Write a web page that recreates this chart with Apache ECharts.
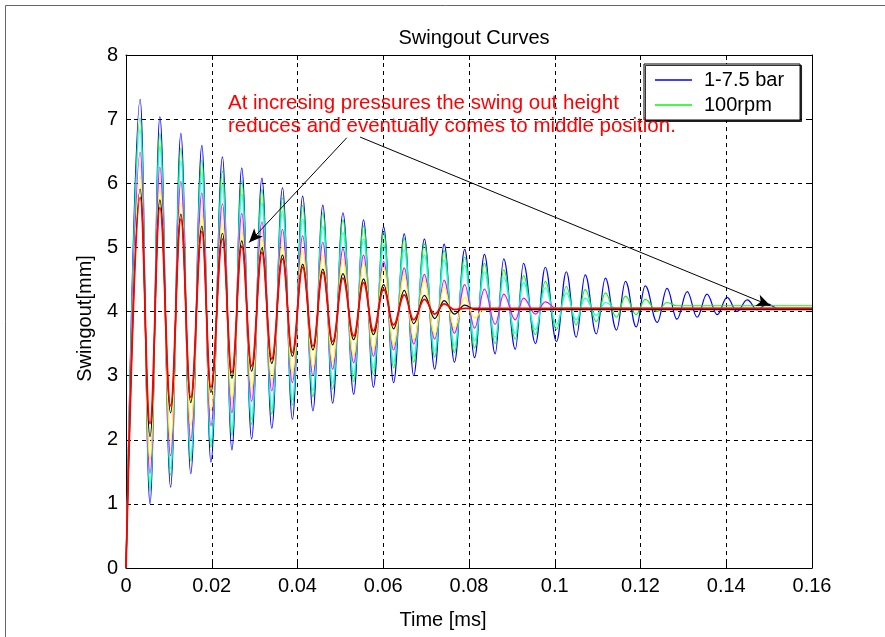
<!DOCTYPE html>
<html>
<head>
<meta charset="utf-8">
<title>Swingout Curves</title>
<script src="https://cdn.jsdelivr.net/npm/echarts@6/dist/echarts.min.js"></script>
<style>
  html, body { margin: 0; padding: 0; background: #fff; }
  #chart { width: 885px; height: 637px; }
</style>
</head>
<body>
<div id="chart"></div>
<script>
// Times [ms] of the oscillation crests and troughs (shared by every curve)
const peakTimes = [0.0033, 0.0079, 0.0128, 0.0177, 0.0225, 0.0270, 0.0317, 0.0365, 0.0412, 0.0459,
  0.0506, 0.0554, 0.0601, 0.0649, 0.0696, 0.0742, 0.0790, 0.0836, 0.0881, 0.0927,
  0.0978, 0.1027, 0.1071, 0.1118, 0.1165, 0.1211, 0.1262, 0.1309, 0.1355, 0.1402,
  0.1449, 0.1496, 0.1543];
const troughTimes = [0.0056, 0.0104, 0.0151, 0.0198, 0.0247, 0.0293, 0.0340, 0.0388, 0.0436, 0.0482,
  0.0531, 0.0577, 0.0624, 0.0671, 0.0720, 0.0766, 0.0813, 0.0861, 0.0908, 0.0955,
  0.1004, 0.1050, 0.1097, 0.1144, 0.1190, 0.1239, 0.1285, 0.1332, 0.1379, 0.1425,
  0.1472, 0.1519];

// Swingout [mm] at each crest / trough, one pair of lists per pressure curve
const bluePeaks = [7.31, 7.04, 6.78, 6.59, 6.41, 6.24, 6.08, 5.93, 5.80, 5.66, 5.54, 5.43, 5.32, 5.21, 5.13, 5.05,
  4.97, 4.89, 4.82, 4.75, 4.69, 4.62, 4.57, 4.52, 4.47, 4.40, 4.36, 4.31, 4.27, 4.22, 4.18, 4.12];
const blueTroughs = [1.00, 1.26, 1.47, 1.65, 1.84, 2.01, 2.18, 2.32, 2.45, 2.57, 2.71, 2.82, 2.89, 3.00, 3.10, 3.21,
  3.28, 3.34, 3.41, 3.50, 3.53, 3.60, 3.65, 3.71, 3.76, 3.83, 3.88, 3.91, 3.95, 4.00, 4.03, 4.05];

const greenPeaks = [7.02, 6.78, 6.55, 6.36, 6.19, 6.04, 5.90, 5.77, 5.65, 5.54, 5.43, 5.33, 5.23, 5.14, 5.05, 4.95,
  4.85, 4.75, 4.65, 4.56, 4.47, 4.39, 4.34, 4.29, 4.24, 4.19, 4.14];
const greenTroughs = [1.20, 1.45, 1.67, 1.88, 2.07, 2.24, 2.40, 2.54, 2.67, 2.79, 2.91, 3.02, 3.12, 3.21, 3.29, 3.36,
  3.43, 3.50, 3.57, 3.64, 3.72, 3.79, 3.84, 3.91, 3.95, 4.00];

const cyanPeaks = [6.84, 6.58, 6.35, 6.16, 5.98, 5.83, 5.69, 5.56, 5.44, 5.33, 5.23, 5.13, 5.04, 4.96, 4.88, 4.80,
  4.72, 4.62, 4.53, 4.45, 4.37, 4.29, 4.21, 4.14];
const cyanTroughs = [1.30, 1.55, 1.77, 1.97, 2.15, 2.32, 2.48, 2.63, 2.77, 2.89, 3.01, 3.12, 3.21, 3.30, 3.38, 3.46,
  3.54, 3.60, 3.66, 3.72, 3.80, 3.87, 3.94];

const magentaPeaks = [6.48, 6.25, 6.03, 5.85, 5.68, 5.53, 5.40, 5.28, 5.18, 5.08, 4.98, 4.88, 4.78, 4.68, 4.58, 4.49,
  4.42, 4.35, 4.27, 4.21, 4.15];
const magentaTroughs = [1.47, 1.75, 2.00, 2.22, 2.42, 2.60, 2.76, 2.89, 3.00, 3.10, 3.20, 3.30, 3.40, 3.49, 3.57, 3.66,
  3.74, 3.80, 3.87, 3.96];

const yellowPeaks = [6.11, 5.90, 5.70, 5.52, 5.37, 5.24, 5.13, 5.03, 4.95, 4.88, 4.82, 4.76, 4.69, 4.58, 4.48, 4.38, 4.22];
const yellowTroughs = [1.67, 1.98, 2.22, 2.45, 2.63, 2.80, 2.93, 3.04, 3.13, 3.22, 3.31, 3.40, 3.48, 3.56, 3.64, 3.74, 3.90];

const blackPeaks = [5.91, 5.74, 5.52, 5.33, 5.22, 5.10, 4.99, 4.88, 4.74, 4.66, 4.59, 4.51, 4.42, 4.33, 4.25, 4.17, 4.10];
const blackTroughs = [2.05, 2.42, 2.58, 2.74, 2.96, 3.07, 3.19, 3.30, 3.40, 3.48, 3.56, 3.64, 3.73, 3.81, 3.89, 3.96];

const redPeaks = [5.78, 5.62, 5.44, 5.25, 5.13, 5.02, 4.92, 4.82, 4.69, 4.61, 4.52, 4.45, 4.35, 4.26, 4.19, 4.12];
const redTroughs = [2.25, 2.53, 2.66, 2.82, 3.05, 3.15, 3.26, 3.36, 3.46, 3.53, 3.62, 3.70, 3.79, 3.87, 3.96, 4.03];

// Final resting swingout [mm] of each curve
const settleLevels = { blue: 4.05, green: 4.09, cyan: 4.05, magenta: 4.05, yellow: 4.05, black: 4.03, red: 4.05 };

// Axis ticks
const xTicks = { min: 0, max: 0.16, step: 0.02 };
const yTicks = { min: 0, max: 8, step: 1 };

// Annotation arrows: [time, swingout] of tail and head
const arrowTails = [[0.0515, 6.71], [0.0546, 6.72]];
const arrowHeads = [[0.0287, 5.075], [0.1503, 4.09]];

const noteText = 'At incresing pressures the swing out height\nreduces and eventually comes to middle position.';

// Interleave crests and troughs, then hold the resting level to the end of the run
function buildCurve(peaks, troughs, rest) {
  const pts = [[0, 0]];
  const n = Math.max(peaks.length, troughs.length);
  for (let i = 0; i < n; i++) {
    if (i < peaks.length) pts.push([peakTimes[i], peaks[i]]);
    if (i < troughs.length) pts.push([troughTimes[i], troughs[i]]);
  }
  const tNext = peaks.length > troughs.length ? troughTimes[troughs.length] : peakTimes[peaks.length];
  pts.push([tNext, rest]);
  pts.push([xTicks.max, rest]);
  return pts;
}

const FONT = '"Liberation Sans", Arial, Helvetica, sans-serif';

function curve(name, color, width, peaks, troughs, rest) {
  return {
    name: name,
    type: 'line',
    xAxisIndex: 0,
    yAxisIndex: 0,
    symbol: 'none',
    smooth: 0.4,
    smoothMonotone: 'x',
    animation: false,
    lineStyle: { color: color, width: width },
    itemStyle: { color: color },
    data: buildCurve(peaks, troughs, rest)
  };
}

const series = [
  curve('1-7.5 bar', '#0000ff', 1.2, bluePeaks, blueTroughs, settleLevels.blue),
  curve('100rpm', '#00ff00', 1.2, greenPeaks, greenTroughs, settleLevels.green),
  curve('c3', '#00ffff', 1.2, cyanPeaks, cyanTroughs, settleLevels.cyan),
  curve('c4', '#ff00ff', 1.2, magentaPeaks, magentaTroughs, settleLevels.magenta),
  curve('c5', '#ffff00', 1.2, yellowPeaks, yellowTroughs, settleLevels.yellow),
  curve('c6', '#000000', 1.2, blackPeaks, blackTroughs, settleLevels.black),
  curve('c7', '#ff0000', 1.8, redPeaks, redTroughs, settleLevels.red)
];

// Arrows pointing at the decaying crests
series.push({
  name: 'arrows',
  type: 'line',
  data: [],
  symbol: 'none',
  animation: false,
  silent: true,
  markLine: {
    silent: true,
    animation: false,
    symbol: ['none', 'arrow'],
    symbolSize: [9, 14],
    label: { show: false },
    lineStyle: { color: '#000', width: 1, type: 'solid' },
    emphasis: { disabled: true },
    data: arrowTails.map((t, i) => [{ coord: t }, { coord: arrowHeads[i] }])
  }
});

const chart = echarts.init(document.getElementById('chart'), null, { renderer: 'canvas' });

const tickCommon = { inside: true, length: 5, lineStyle: { color: '#000', width: 1 } };

chart.setOption({
  backgroundColor: '#fff',
  animation: false,
  title: {
    text: 'Swingout Curves',
    left: 469,
    top: 23,
    textAlign: 'center',
    textStyle: { fontFamily: FONT, fontSize: 20, fontWeight: 'normal', color: '#000' }
  },
  legend: {
    data: ['1-7.5 bar', '100rpm'],
    orient: 'vertical',
    left: 644,
    top: 64,
    padding: [6, 16, 5, 11],
    icon: 'rect',
    itemWidth: 37,
    itemHeight: 1.5,
    itemGap: 5,
    backgroundColor: '#fff',
    borderColor: '#000',
    borderWidth: 1,
    borderRadius: 0,
    shadowColor: 'rgba(0,0,0,0.8)',
    shadowBlur: 0,
    shadowOffsetX: 1.5,
    shadowOffsetY: 1.5,
    selectedMode: false,
    textStyle: { fontFamily: FONT, fontSize: 20, lineHeight: 20, color: '#000', padding: [0, 0, 0, 7] }
  },
  grid: { left: 126, right: 73, top: 55, bottom: 69, containLabel: false },
  xAxis: [
    {
      type: 'value',
      position: 'bottom',
      min: xTicks.min,
      max: xTicks.max,
      interval: xTicks.step,
      name: 'Time [ms]',
      nameLocation: 'middle',
      nameGap: 42,
      nameTextStyle: { fontFamily: FONT, fontSize: 20, color: '#000', padding: [0, 52, 0, 0] },
      axisLine: { show: true, onZero: false, lineStyle: { color: '#000', width: 1 } },
      axisTick: tickCommon,
      axisLabel: { fontFamily: FONT, fontSize: 20, color: '#000', margin: 8 },
      splitLine: { show: true, lineStyle: { color: '#000', width: 1, type: [4, 4] } }
    },
    {
      type: 'value',
      position: 'top',
      min: xTicks.min,
      max: xTicks.max,
      interval: xTicks.step,
      axisLine: { show: true, onZero: false, lineStyle: { color: '#000', width: 1 } },
      axisTick: tickCommon,
      axisLabel: { show: false },
      splitLine: { show: false }
    }
  ],
  yAxis: [
    {
      type: 'value',
      position: 'left',
      min: yTicks.min,
      max: yTicks.max,
      interval: yTicks.step,
      name: 'Swingout[mm]',
      nameLocation: 'middle',
      nameGap: 28,
      nameTextStyle: { fontFamily: FONT, fontSize: 20, color: '#000', padding: [0, 14, 0, 0] },
      axisLine: { show: true, onZero: false, lineStyle: { color: '#000', width: 1 } },
      axisTick: tickCommon,
      axisLabel: { fontFamily: FONT, fontSize: 20, color: '#000', margin: 8 },
      splitLine: { show: true, lineStyle: { color: '#000', width: 1, type: [4, 4] } }
    },
    {
      type: 'value',
      position: 'right',
      min: yTicks.min,
      max: yTicks.max,
      interval: yTicks.step,
      axisLine: { show: true, onZero: false, lineStyle: { color: '#000', width: 1 } },
      axisTick: tickCommon,
      axisLabel: { show: false },
      splitLine: { show: false }
    }
  ],
  graphic: [
    {
      type: 'rect',
      silent: true,
      z: -10,
      shape: { x: 5.5, y: 5.5, width: 900, height: 700 },
      style: { fill: 'none', stroke: '#666', lineWidth: 1 }
    },
    {
      type: 'text',
      silent: true,
      left: 228,
      top: 92,
      z: 100,
      style: {
        text: noteText,
        fill: '#ff0000',
        font: '20.5px ' + FONT,
        lineHeight: 23
      }
    }
  ],
  series: series
});
</script>
</body>
</html>
